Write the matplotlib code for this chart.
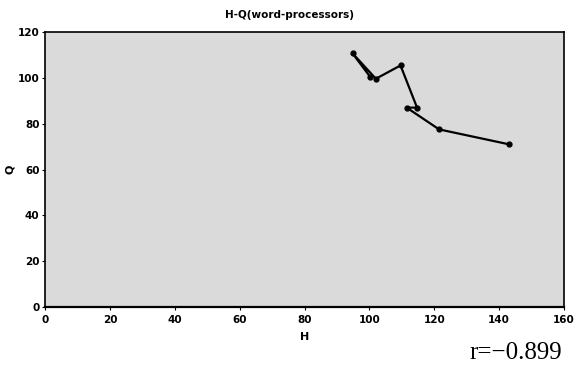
import matplotlib
matplotlib.use("Agg")
import matplotlib.pyplot as plt

# Data (path order as drawn)
H = [100.2, 94.8, 102.0, 109.6, 114.7, 111.5, 121.5, 143.0]
Q = [100.5, 110.7, 99.6, 105.4, 87.0, 87.0, 77.5, 71.0]
x_ticks = [0, 20, 40, 60, 80, 100, 120, 140, 160]
y_ticks = [0, 20, 40, 60, 80, 100, 120]
title = "H-Q(word-processors)"
r_text = "r=\u22120.899"

fig = plt.figure(figsize=(5.87, 3.68), dpi=100)
ax = fig.add_axes([45/587, 1-307/368, (564-45)/587, (307-32)/368])
ax.set_facecolor('#dadada')
ax.plot(H, Q, color='black', lw=1.6, marker='o', ms=3.5, zorder=3)
ax.set_xlim(0, 160)
ax.set_ylim(0, 120)
ax.set_xticks(x_ticks)
ax.set_yticks(y_ticks)
for lab in ax.get_xticklabels() + ax.get_yticklabels():
    lab.set_fontweight('bold')
    lab.set_fontsize(7.5)
ax.tick_params(axis='y', length=2, width=0.8, pad=2)
ax.tick_params(axis='x', length=2, width=0.8, pad=4)
for s in ax.spines.values():
    s.set_linewidth(1.2)
ax.spines['bottom'].set_linewidth(1.6)
ax.set_xlabel('H', fontsize=8, fontweight='bold', labelpad=5)
ax.set_ylabel('Q', fontsize=8, fontweight='bold', labelpad=2)
fig.text(289/587, 1-15/368, title, ha='center', va='center', fontsize=7.5, fontweight='bold')
fig.text(562/587, 1-353/368, r_text, ha='right', va='center', fontsize=18, family='Liberation Serif')
fig.savefig('out.png', dpi=100, facecolor='white')
